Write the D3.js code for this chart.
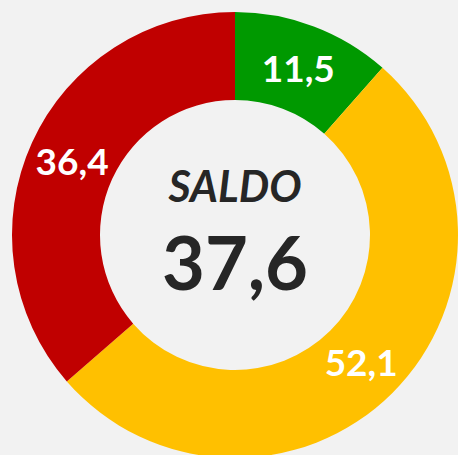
<!DOCTYPE html>
<html>
<head>
<meta charset="utf-8">
<script src="https://cdn.jsdelivr.net/npm/d3@7"></script>
<style>
  html, body { margin: 0; padding: 0; background: #f2f2f2; }
  svg { display: block; }
</style>
</head>
<body>
<div id="chart"></div>
<script>
// data
const categories = ["positivo", "neutro", "negativo"];
const values = [11.5, 52.1, 36.4];
const labels = ["11,5", "52,1", "36,4"];
const colors = ["#009900", "#ffc000", "#c00000"];
const centerTitle = "SALDO";
const centerValue = "37,6";

const width = 458, height = 455;
const cx = 235, cy = 235;
const outerR = 223, innerR = 135;

const svg = d3.select("#chart")
  .append("svg")
  .attr("width", width)
  .attr("height", height)
  .style("background", "#f2f2f2");

const g = svg.append("g")
  .attr("transform", `translate(${cx}, ${cy})`);

const pie = d3.pie().sort(null).value(d => d);
const arc = d3.arc().innerRadius(innerR).outerRadius(outerR);

const arcs = pie(values);

g.selectAll("path")
  .data(arcs)
  .join("path")
  .attr("d", arc)
  .attr("fill", (d, i) => colors[i]);

g.selectAll("text.lbl")
  .data(arcs)
  .join("text")
  .attr("class", "lbl")
  .attr("x", d => arc.centroid(d)[0])
  .attr("y", d => arc.centroid(d)[1])
  .attr("text-anchor", "middle")
  .attr("dominant-baseline", "central")
  .style("font-family", "Lato, 'DejaVu Sans', sans-serif")
  .style("font-weight", "bold")
  .style("font-size", "37px")
  .style("fill", "#ffffff")
  .text((d, i) => labels[i]);

// center text
g.append("text")
  .attr("x", 0)
  .attr("y", -33)
  .attr("text-anchor", "middle")
  .style("font-family", "Lato, 'DejaVu Sans', sans-serif")
  .style("font-weight", "bold")
  .style("font-style", "italic")
  .style("font-size", "43px")
  .style("fill", "#262626")
  .text(centerTitle);

g.append("text")
  .attr("x", 0)
  .attr("y", 55)
  .attr("text-anchor", "middle")
  .style("font-family", "Lato, 'DejaVu Sans', sans-serif")
  .style("font-weight", "bold")
  .style("font-size", "74px")
  .style("fill", "#262626")
  .text(centerValue);
</script>
</body>
</html>
